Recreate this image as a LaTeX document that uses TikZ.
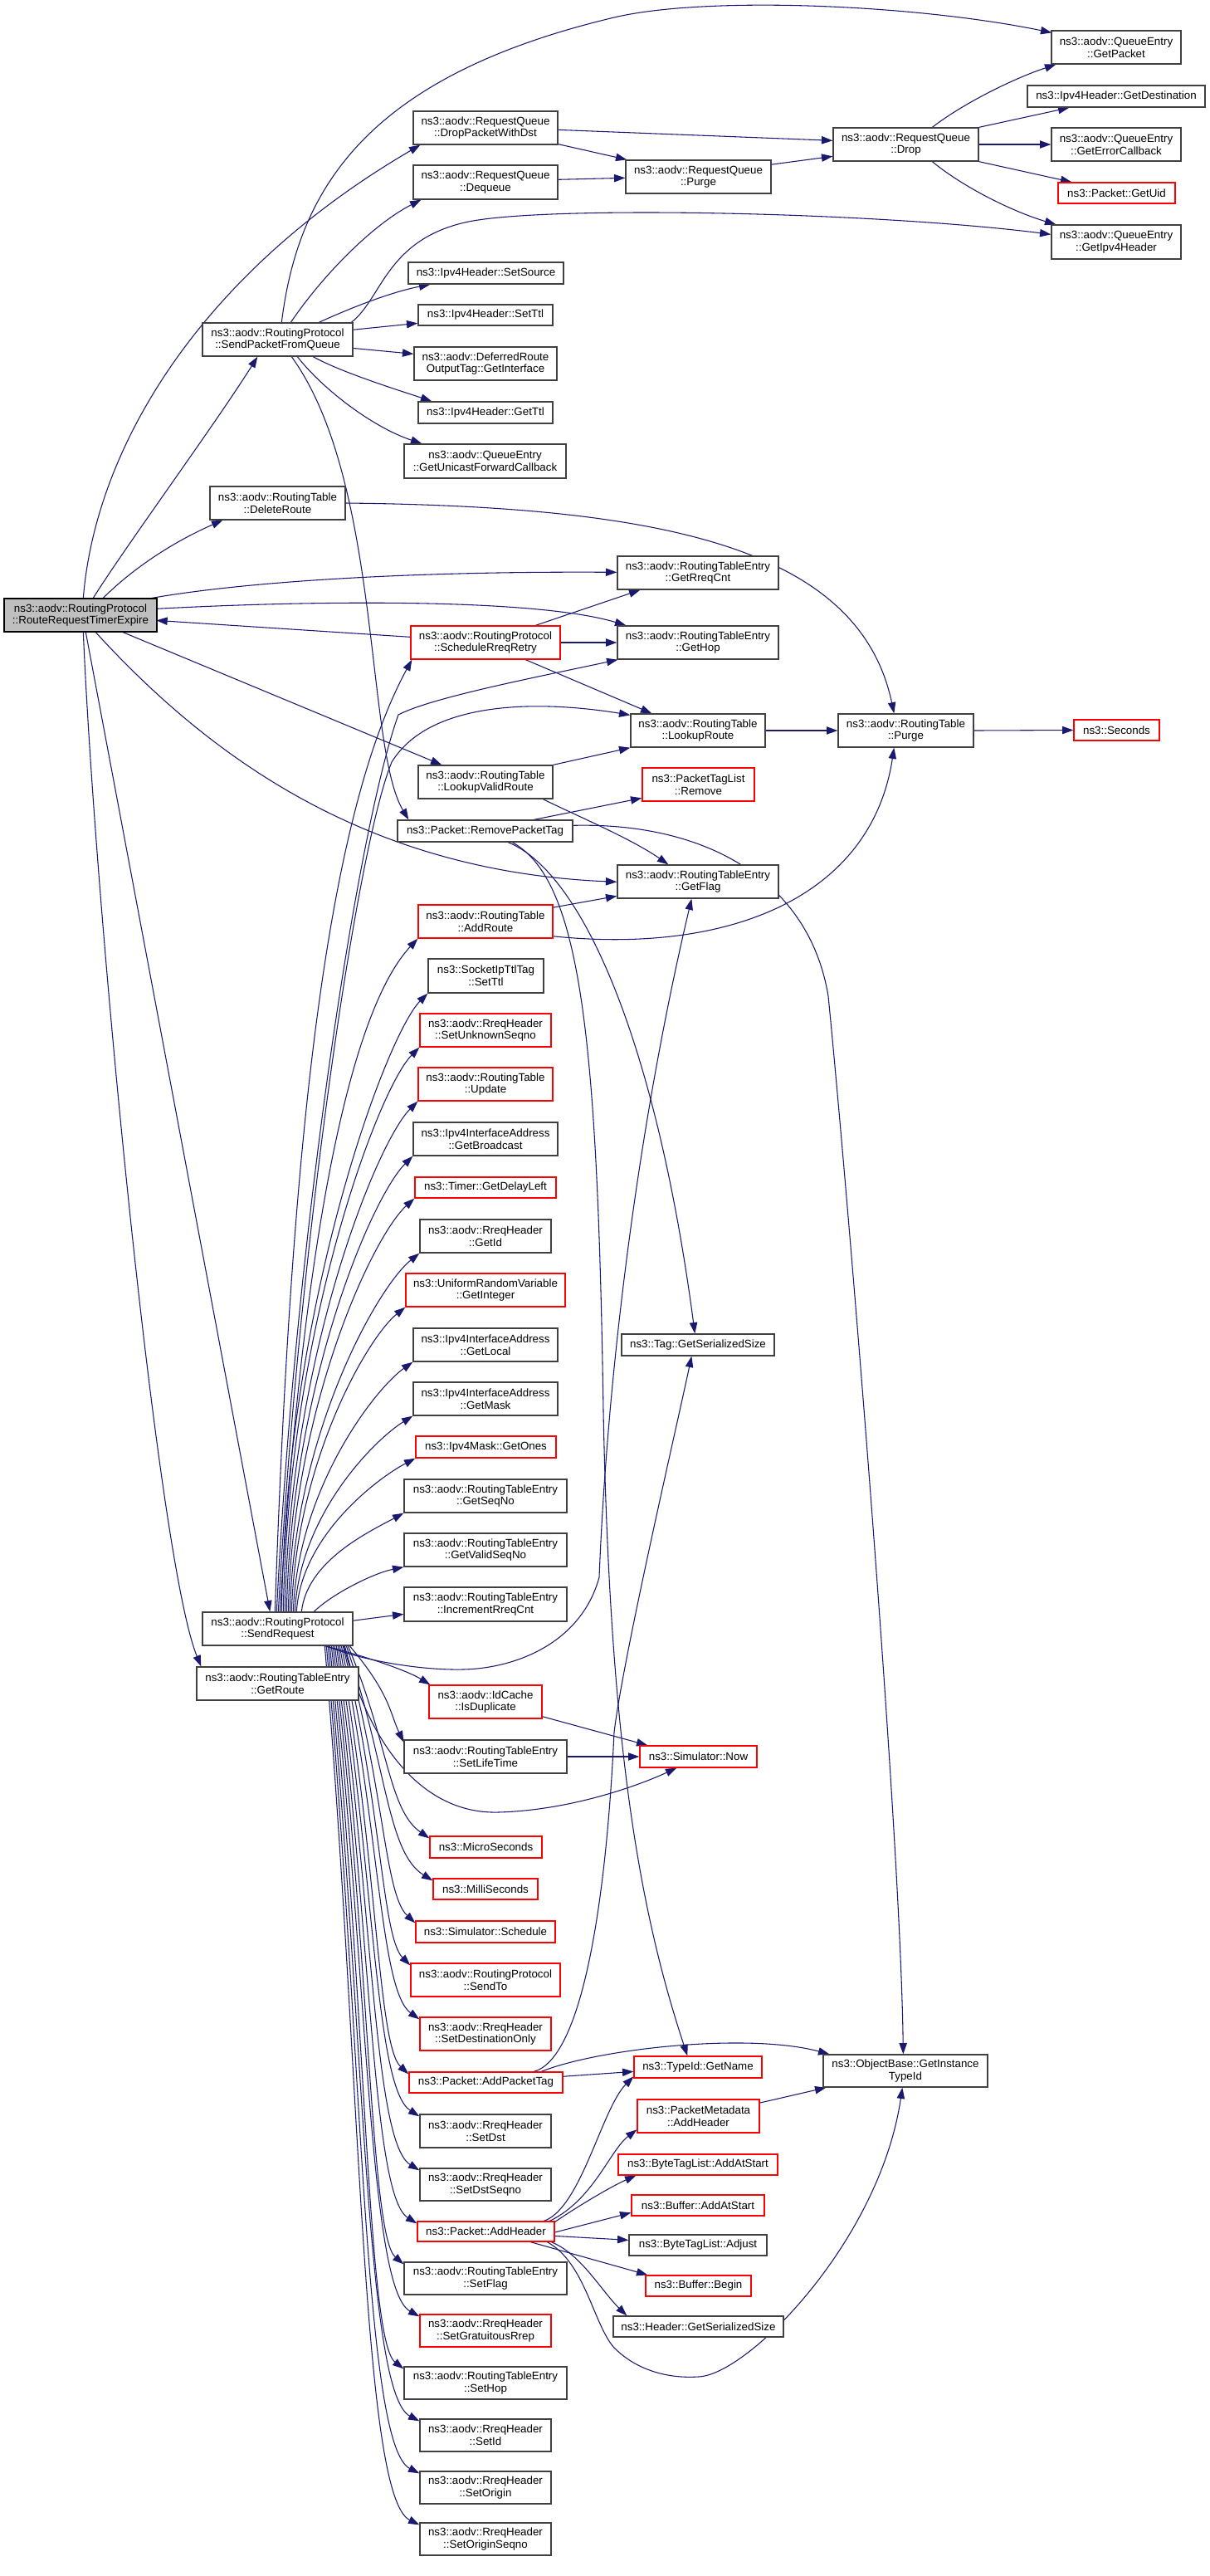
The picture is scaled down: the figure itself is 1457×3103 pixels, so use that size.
\documentclass[tikz,border=0pt]{standalone}
\usepackage{fontspec}
\setmainfont{Liberation Sans}
\usetikzlibrary{arrows.meta,calc}
\definecolor{edgeblue}{HTML}{191970}
\definecolor{nodegray}{HTML}{BFBFBF}
\definecolor{bordergray}{HTML}{404040}
\pgfdeclarelayer{bg}
\pgfsetlayers{bg,main}
\tikzset{
  nbox/.style={draw=bordergray, line width=1pt, fill=white, inner sep=0pt, align=center,
    font=\fontsize{10}{11}\selectfont},
  rbox/.style={draw=red},
  gbox/.style={draw=black, fill=nodegray},
  ed/.style={draw=edgeblue, line width=0.8pt, -{Triangle[length=10pt,width=7pt]}},
}
\newcommand{\mkbox}[7][]{\node[nbox,#1,minimum width={(#5)*0.75pt},minimum height={(#6)*0.75pt}] (#2) at ({#3+(#5)/2},{#4+(#6)/2}) {#7};}
\begin{document}
\begin{tikzpicture}[x=0.75pt,y=-0.75pt]
\begin{pgfonlayer}{bg}
\fill[white] (0,0) rectangle (1457,3103);
\end{pgfonlayer}
\useasboundingbox (0,0) rectangle (1457,3103);
% column A/B
\mkbox[gbox]{RRTE}{5}{721}{184}{40}{ns3::aodv::RoutingProtocol\\::RouteRequestTimerExpire}
\mkbox{SPFQ}{244}{389}{181}{40}{ns3::aodv::RoutingProtocol\\::SendPacketFromQueue}
\mkbox{DeleteRoute}{253}{586}{163}{40}{ns3::aodv::RoutingTable\\::DeleteRoute}
\mkbox{SR}{244}{1942}{181}{40}{ns3::aodv::RoutingProtocol\\::SendRequest}
\mkbox{GetRoute}{237}{2008}{195}{40}{ns3::aodv::RoutingTableEntry\\::GetRoute}
% column C
\mkbox{DPWD}{498}{134}{174}{40}{ns3::aodv::RequestQueue\\::DropPacketWithDst}
\mkbox{Dequeue}{498}{199}{174}{41}{ns3::aodv::RequestQueue\\::Dequeue}
\mkbox{SetSource}{492}{316}{187}{26}{ns3::Ipv4Header::SetSource}
\mkbox{SetTtlH}{504}{367}{162}{25}{ns3::Ipv4Header::SetTtl}
\mkbox{DefRoute}{499}{418}{172}{40}{ns3::aodv::DeferredRoute\\OutputTag::GetInterface}
\mkbox{GetTtl}{504}{484}{162}{26}{ns3::Ipv4Header::GetTtl}
\mkbox{GUFC}{487}{535}{195}{41}{ns3::aodv::QueueEntry\\::GetUnicastForwardCallback}
\mkbox[rbox]{SRR}{495}{754}{180}{40}{ns3::aodv::RoutingProtocol\\::ScheduleRreqRetry}
\mkbox{LVR}{504}{922}{162}{40}{ns3::aodv::RoutingTable\\::LookupValidRoute}
\mkbox{RPT}{479}{988}{211}{26}{ns3::Packet::RemovePacketTag}
\mkbox[rbox]{AddRoute}{504}{1090}{162}{40}{ns3::aodv::RoutingTable\\::AddRoute}
\mkbox{SockTtl}{516}{1155}{139}{41}{ns3::SocketIpTtlTag\\::SetTtl}
\mkbox[rbox]{SUS}{506}{1221}{158}{40}{ns3::aodv::RreqHeader\\::SetUnknownSeqno}
\mkbox[rbox]{Update}{504}{1286}{162}{40}{ns3::aodv::RoutingTable\\::Update}
\mkbox{GetBroadcast}{498}{1352}{174}{40}{ns3::Ipv4InterfaceAddress\\::GetBroadcast}
\mkbox[rbox]{GDL}{500}{1418}{170}{25}{ns3::Timer::GetDelayLeft}
\mkbox{GetId}{506}{1469}{158}{40}{ns3::aodv::RreqHeader\\::GetId}
\mkbox[rbox]{GetInteger}{489}{1534}{192}{40}{ns3::UniformRandomVariable\\::GetInteger}
\mkbox{GetLocal}{498}{1600}{174}{40}{ns3::Ipv4InterfaceAddress\\::GetLocal}
\mkbox{GetMask}{498}{1665}{174}{40}{ns3::Ipv4InterfaceAddress\\::GetMask}
\mkbox[rbox]{GetOnes}{501}{1730}{169}{26}{ns3::Ipv4Mask::GetOnes}
\mkbox{GetSeqNo}{487}{1782}{196}{40}{ns3::aodv::RoutingTableEntry\\::GetSeqNo}
\mkbox{GVSN}{487}{1847}{196}{40}{ns3::aodv::RoutingTableEntry\\::GetValidSeqNo}
\mkbox{IRC}{487}{1912}{196}{41}{ns3::aodv::RoutingTableEntry\\::IncrementRreqCnt}
\mkbox[rbox]{IsDup}{517}{2030}{136}{40}{ns3::aodv::IdCache\\::IsDuplicate}
\mkbox{SetLifeTime}{487}{2096}{196}{40}{ns3::aodv::RoutingTableEntry\\::SetLifeTime}
\mkbox[rbox]{Micro}{518}{2212}{135}{26}{ns3::MicroSeconds}
\mkbox[rbox]{Milli}{522}{2263}{126}{25}{ns3::MilliSeconds}
\mkbox[rbox]{Schedule}{501}{2314}{168}{26}{ns3::Simulator::Schedule}
\mkbox[rbox]{SendTo}{495}{2365}{180}{40}{ns3::aodv::RoutingProtocol\\::SendTo}
\mkbox[rbox]{SDO}{506}{2430}{158}{40}{ns3::aodv::RreqHeader\\::SetDestinationOnly}
\mkbox[rbox]{APT}{493}{2496}{185}{25}{ns3::Packet::AddPacketTag}
\mkbox{SetDst}{506}{2547}{158}{40}{ns3::aodv::RreqHeader\\::SetDst}
\mkbox{SetDstSeqno}{506}{2612}{158}{39}{ns3::aodv::RreqHeader\\::SetDstSeqno}
\mkbox[rbox]{AddHeader}{503}{2676}{165}{24}{ns3::Packet::AddHeader}
\mkbox{SetFlag}{487}{2725}{196}{39}{ns3::aodv::RoutingTableEntry\\::SetFlag}
\mkbox[rbox]{SGR}{506}{2788}{158}{39}{ns3::aodv::RreqHeader\\::SetGratuitousRrep}
\mkbox{SetHop}{487}{2851}{196}{39}{ns3::aodv::RoutingTableEntry\\::SetHop}
\mkbox{SetId}{506}{2914}{158}{39}{ns3::aodv::RreqHeader\\::SetId}
\mkbox{SetOrigin}{506}{2977}{158}{39}{ns3::aodv::RreqHeader\\::SetOrigin}
\mkbox{SOS}{506}{3039}{158}{39}{ns3::aodv::RreqHeader\\::SetOriginSeqno}
% column D
\mkbox{RQPurge}{754}{193}{175}{40}{ns3::aodv::RequestQueue\\::Purge}
\mkbox{GetRreqCnt}{744}{670}{194}{40}{ns3::aodv::RoutingTableEntry\\::GetRreqCnt}
\mkbox{GetHop}{744}{754}{194}{40}{ns3::aodv::RoutingTableEntry\\::GetHop}
\mkbox{LookupRoute}{760}{860}{162}{40}{ns3::aodv::RoutingTable\\::LookupRoute}
\mkbox[rbox]{PTLRemove}{774}{925}{135}{40}{ns3::PacketTagList\\::Remove}
\mkbox{GetFlag}{744}{1042}{194}{40}{ns3::aodv::RoutingTableEntry\\::GetFlag}
\mkbox{TagGSS}{749}{1607}{184}{26}{ns3::Tag::GetSerializedSize}
\mkbox[rbox]{Now}{771}{2103}{141}{26}{ns3::Simulator::Now}
\mkbox[rbox]{GetName}{764}{2477}{154}{26}{ns3::TypeId::GetName}
\mkbox[rbox]{PMAddHeader}{768}{2529}{147}{40}{ns3::PacketMetadata\\::AddHeader}
\mkbox[rbox]{BTLAddAtStart}{745}{2595}{192}{25}{ns3::ByteTagList::AddAtStart}
\mkbox[rbox]{BufAddAtStart}{761}{2644}{160}{25}{ns3::Buffer::AddAtStart}
\mkbox{BTLAdjust}{758}{2692}{166}{25}{ns3::ByteTagList::Adjust}
\mkbox[rbox]{BufBegin}{778}{2741}{127}{25}{ns3::Buffer::Begin}
\mkbox{HeaderGSS}{739}{2790}{205}{25}{ns3::Header::GetSerializedSize}
% column E
\mkbox{Drop}{1004}{154}{175}{40}{ns3::aodv::RequestQueue\\::Drop}
\mkbox{RTPurge}{1010}{860}{163}{40}{ns3::aodv::RoutingTable\\::Purge}
\mkbox{ObjectBase}{992}{2475}{198}{39}{ns3::ObjectBase::GetInstance\\TypeId}
% column F
\mkbox{GetPacket}{1267}{37}{156}{40}{ns3::aodv::QueueEntry\\::GetPacket}
\mkbox{GetDest}{1238}{103}{214}{26}{ns3::Ipv4Header::GetDestination}
\mkbox{GetErrCb}{1267}{154}{156}{40}{ns3::aodv::QueueEntry\\::GetErrorCallback}
\mkbox[rbox]{GetUid}{1275}{220}{141}{25}{ns3::Packet::GetUid}
\mkbox{GetIpv4Hdr}{1267}{271}{156}{41}{ns3::aodv::QueueEntry\\::GetIpv4Header}
\mkbox[rbox]{Seconds}{1294}{867}{103}{25}{ns3::Seconds}

\begin{pgfonlayer}{bg}
% RouteRequestTimerExpire
\draw[ed] ($(RRTE.north west)+(96,0)$) .. controls (115,540) and (240,330) .. ($(DPWD.south west)+(9,0)$);
\draw[ed] ($(RRTE.north west)+(108,0)$) .. controls (150,660) and (260,510) .. ($(SPFQ.south west)+(67,0)$);
\draw[ed] ($(RRTE.north west)+(120,0)$) .. controls (165,680) and (215,650) .. ($(DeleteRoute.south west)+(16,0)$);
\draw[ed] ($(RRTE.north west)+(179,0)$) .. controls (300,700) and (500,688) .. ($(GetRreqCnt.north west)+(0,20)$);
\draw[ed] ($(RRTE.north west)+(184,13)$) .. controls (400,722) and (650,722) .. ($(GetHop.north west)+(11,0)$);
\draw[ed] ($(SRR.north west)+(0,14)$) -- ($(RRTE.north west)+(184,27)$);
\draw[ed] ($(RRTE.south west)+(144,0)$) -- ($(LVR.north west)+(29,0)$);
\draw[ed] ($(RRTE.south west)+(111,0)$) .. controls (260,920) and (450,1050) .. ($(GetFlag.north west)+(0,21)$);
\draw[ed] ($(RRTE.south west)+(99,0)$) -- ($(SR.north west)+(82,0)$);
\draw[ed] ($(RRTE.south west)+(96,0)$) .. controls (115,1100) and (190,1880) .. ($(GetRoute.north west)+(6,0)$);
% SendPacketFromQueue
\draw[ed] ($(SPFQ.north west)+(96,0)$) .. controls (360,220) and (450,90) .. (740,21) .. controls (850,-5) and (1100,5) .. ($(GetPacket.north west)+(1,3)$);
\draw[ed] ($(SPFQ.north west)+(107,0)$) .. controls (390,330) and (450,270) .. ($(Dequeue.south west)+(10,0)$);
\draw[ed] ($(SPFQ.north west)+(141,0)$) .. controls (420,372) and (470,352) .. ($(SetSource.south west)+(27,0)$);
\draw[ed] ($(SPFQ.north west)+(180,0)$) .. controls (460,360) and (465,290) .. (560,268) .. controls (650,247) and (1050,255) .. ($(GetIpv4Hdr.north west)+(0,12)$);
\draw[ed] ($(SPFQ.north west)+(181,9)$) -- ($(SetTtlH.north west)+(0,23)$);
\draw[ed] ($(SPFQ.north west)+(181,31)$) -- ($(DefRoute.north west)+(0,9)$);
\draw[ed] ($(SPFQ.south west)+(134,0)$) .. controls (410,448) and (480,470) .. ($(GetTtl.north west)+(17,0)$);
\draw[ed] ($(SPFQ.south west)+(115,0)$) .. controls (390,470) and (450,515) .. ($(GUFC.north west)+(22,0)$);
\draw[ed] ($(SPFQ.south west)+(108,0)$) .. controls (460,580) and (440,900) .. ($(RPT.north west)+(14,0)$);
% request queue
\draw[ed] ($(DPWD.north west)+(174,23)$) -- ($(Drop.north west)+(0,16)$);
\draw[ed] ($(DPWD.north west)+(174,40)$) -- ($(RQPurge.north west)+(2,0)$);
\draw[ed] ($(Dequeue.north west)+(174,18)$) -- ($(RQPurge.north west)+(0,22)$);
\draw[ed] ($(RQPurge.north west)+(175,6)$) -- ($(Drop.north west)+(0,35)$);
\draw[ed] ($(Drop.north west)+(120,0)$) .. controls (1160,125) and (1220,95) .. ($(GetPacket.south west)+(6,0)$);
\draw[ed] (Drop.north east) -- ($(GetDest.south west)+(51,0)$);
\draw[ed] (Drop.east) -- (GetErrCb.west);
\draw[ed] (Drop.south east) -- ($(GetUid.north west)+(17,0)$);
\draw[ed] ($(Drop.south west)+(120,0)$) .. controls (1160,225) and (1220,255) .. ($(GetIpv4Hdr.north west)+(6,0)$);
% ScheduleRreqRetry and friends
\draw[ed] ($(SRR.north west)+(151,0)$) -- ($(GetRreqCnt.south west)+(28,0)$);
\draw[ed] (SRR.east) -- (GetHop.west);
\draw[ed] ($(SRR.south west)+(139,0)$) -- ($(LookupRoute.north west)+(26,0)$);
\draw[ed] (LVR.north east) -- (LookupRoute.south west);
\draw[ed] ($(LVR.south west)+(151,0)$) .. controls (700,985) and (760,1010) .. ($(GetFlag.north west)+(62,0)$);
\draw[ed] ($(RPT.north west)+(165,0)$) -- ($(PTLRemove.north west)+(0,37)$);
\draw[ed] ($(RPT.north west)+(211,7)$) .. controls (850,990) and (975,1060) .. (998,1200) .. controls (1020,1420) and (1085,2200) .. ($(ObjectBase.north west)+(97,0)$);
\draw[ed] ($(RPT.south west)+(134,0)$) .. controls (700,1050) and (790,1250) .. ($(TagGSS.north west)+(89,0)$);
\draw[ed] ($(RPT.south west)+(139,0)$) .. controls (700,1060) and (720,1250) .. (727,1700) .. controls (735,2100) and (770,2300) .. ($(GetName.north west)+(65,0)$);
\draw[ed] (DeleteRoute.east) .. controls (800,610) and (1035,660) .. ($(RTPurge.north west)+(68,0)$);
\draw[ed] (LookupRoute.east) -- (RTPurge.west);
\draw[ed] (RTPurge.east) -- (Seconds.west);
\draw[ed] ($(AddRoute.south west)+(162,-3)$) .. controls (880,1150) and (1050,1080) .. ($(RTPurge.south west)+(68,0)$);
\draw[ed] ($(AddRoute.north west)+(162,4)$) -- ($(GetFlag.north west)+(0,38)$);
% AddPacketTag
\draw[ed] ($(APT.north west)+(151,0)$) .. controls (700,2480) and (730,2300) .. (740,2087) .. controls (750,2000) and (815,1720) .. ($(TagGSS.south west)+(85,0)$);
\draw[ed] ($(APT.north west)+(160,0)$) .. controls (720,2468) and (900,2448) .. ($(ObjectBase.north west)+(8,0)$);
\draw[ed] ($(APT.north west)+(185,6)$) -- ($(GetName.north west)+(0,19)$);
% AddHeader
\draw[ed] ($(AddHeader.north west)+(153,0)$) .. controls (700,2660) and (725,2540) .. ($(GetName.north west)+(0,25)$);
\draw[ed] ($(AddHeader.north west)+(160,0)$) .. controls (715,2650) and (735,2590) .. ($(PMAddHeader.north west)+(0,37)$);
\draw[ed] ($(AddHeader.north west)+(165,2)$) .. controls (700,2655) and (740,2632) .. ($(BTLAddAtStart.south west)+(22,0)$);
\draw[ed] ($(AddHeader.north west)+(165,14)$) -- ($(BufAddAtStart.north west)+(0,22)$);
\draw[ed] ($(AddHeader.north west)+(165,18)$) -- ($(BTLAdjust.north west)+(0,7)$);
\draw[ed] ($(AddHeader.south west)+(137,0)$) -- ($(BufBegin.north west)+(3,0)$);
\draw[ed] ($(AddHeader.south west)+(162,0)$) .. controls (700,2715) and (725,2760) .. ($(HeaderGSS.north west)+(17,0)$);
\draw[ed] ($(AddHeader.south west)+(157,0)$) .. controls (705,2725) and (715,2800) .. (740,2828) .. controls (770,2858) and (810,2865) .. (841,2863) .. controls (900,2862) and (1060,2700) .. ($(ObjectBase.south west)+(96,0)$);
\draw[ed] ($(PMAddHeader.north west)+(147,5)$) -- ($(ObjectBase.south west)+(4,0)$);
% Simulator::Now
\draw[ed] ($(IsDup.north west)+(136,38)$) -- ($(Now.north west)+(10,0)$);
\draw[ed] (SetLifeTime.east) -- (Now.west);
% SendRequest
\draw[ed] ($(SR.south west)+(171,0)$) .. controls (450,2120) and (520,2185) .. (600,2183) .. controls (680,2181) and (760,2155) .. ($(Now.south west)+(45,0)$);
\draw[ed] ($(SR.north west)+(181,11)$) -- ($(IRC.north west)+(0,33)$);
\draw[ed] ($(SR.south west)+(148,0)$) .. controls (440,1995) and (490,2012) .. ($(IsDup.north west)+(2,0)$);
\draw[ed] ($(SR.south west)+(150,0)$) .. controls (430,1998) and (500,2012) .. (557,2011) .. controls (620,2010) and (700,1980) .. (722,1900) .. controls (732,1650) and (770,1350) .. ($(GetFlag.south west)+(90,0)$);
\draw[ed] ($(SR.north west)+(88,0)$) .. controls (350,1400) and (390,990) .. ($(SRR.south west)+(2,0)$);
\draw[ed] ($(SR.north west)+(90,0)$) .. controls (355,1500) and (430,1000) .. (480,861) .. controls (520,840) and (650,815) .. ($(GetHop.south west)+(1,0)$);
\draw[ed] ($(SR.north west)+(92,0)$) .. controls (360,1500) and (430,1020) .. (472,918) .. controls (520,840) and (660,845) .. ($(LookupRoute.north west)+(0,2)$);
\draw[ed] ($(SR.north west)+(94,0)$) .. controls (365,1500) and (420,1220) .. (AddRoute.south west);
\draw[ed] ($(SR.north west)+(96,0)$) .. controls (345,1569) and (466,1246) .. (SockTtl.south west);
\draw[ed] ($(SR.north west)+(98,0)$) .. controls (347,1601) and (456,1311) .. (SUS.south west);
\draw[ed] ($(SR.north west)+(100,0)$) .. controls (349,1634) and (454,1376) .. (Update.south west);
\draw[ed] ($(SR.north west)+(102,0)$) .. controls (351,1667) and (448,1442) .. (GetBroadcast.south west);
\draw[ed] ($(SR.north west)+(104,0)$) .. controls (353,1692) and (450,1488) .. (GDL.south west);
\draw[ed] ($(SR.north west)+(106,0)$) .. controls (355,1725) and (456,1549) .. (GetId.south west);
\draw[ed] ($(SR.north west)+(108,0)$) .. controls (357,1758) and (444,1610) .. (GetInteger.south west);
\draw[ed] ($(SR.north west)+(110,0)$) .. controls (359,1791) and (453,1672) .. (GetLocal.south west);
\draw[ed] ($(SR.north west)+(112,0)$) .. controls (361,1823) and (453,1733) .. (GetMask.south west);
\draw[ed] ($(SR.north west)+(114,0)$) .. controls (363,1849) and (456,1780) .. (GetOnes.south west);
\draw[ed] ($(SR.north west)+(120,0)$) .. controls (370,1880) and (445,1845) .. (GetSeqNo.south west);
\draw[ed] ($(SR.north west)+(135,0)$) .. controls (400,1920) and (450,1895) .. (GVSN.south west);
\draw[ed] ($(SR.south west)+(178,0)$) .. controls (470,2040) and (470,2064) .. ($(SetLifeTime.north west)+(0,3)$);
\draw[ed] ($(SR.south west)+(176,0)$) .. controls (468,2098) and (468,2180) .. ($(Micro.north west)+(0,3)$);
\draw[ed] ($(SR.south west)+(174,0)$) .. controls (466,2124) and (466,2231) .. ($(Milli.north west)+(0,3)$);
\draw[ed] ($(SR.south west)+(172,0)$) .. controls (463,2150) and (463,2282) .. ($(Schedule.north west)+(0,3)$);
\draw[ed] ($(SR.south west)+(170,0)$) .. controls (460,2175) and (460,2333) .. ($(SendTo.north west)+(0,3)$);
\draw[ed] ($(SR.south west)+(168,0)$) .. controls (458,2207) and (458,2398) .. ($(SDO.north west)+(0,3)$);
\draw[ed] ($(SR.south west)+(166,0)$) .. controls (455,2240) and (455,2464) .. ($(APT.north west)+(0,3)$);
\draw[ed] ($(SR.south west)+(164,0)$) .. controls (452,2266) and (452,2515) .. ($(SetDst.north west)+(0,3)$);
\draw[ed] ($(SR.south west)+(162,0)$) .. controls (450,2298) and (450,2580) .. ($(SetDstSeqno.north west)+(0,3)$);
\draw[ed] ($(SR.south west)+(160,0)$) .. controls (448,2330) and (448,2644) .. ($(AddHeader.north west)+(0,3)$);
\draw[ed] ($(SR.south west)+(158,0)$) .. controls (446,2355) and (446,2693) .. ($(SetFlag.north west)+(0,3)$);
\draw[ed] ($(SR.south west)+(156,0)$) .. controls (444,2386) and (444,2756) .. ($(SGR.north west)+(0,3)$);
\draw[ed] ($(SR.south west)+(154,0)$) .. controls (442,2418) and (442,2819) .. ($(SetHop.north west)+(0,3)$);
\draw[ed] ($(SR.south west)+(152,0)$) .. controls (440,2450) and (440,2882) .. ($(SetId.north west)+(0,3)$);
\draw[ed] ($(SR.south west)+(150,0)$) .. controls (438,2481) and (438,2945) .. ($(SetOrigin.north west)+(0,3)$);
\draw[ed] ($(SR.south west)+(148,0)$) .. controls (436,2512) and (436,3007) .. ($(SOS.north west)+(0,3)$);
\end{pgfonlayer}
\end{tikzpicture}
\end{document}
